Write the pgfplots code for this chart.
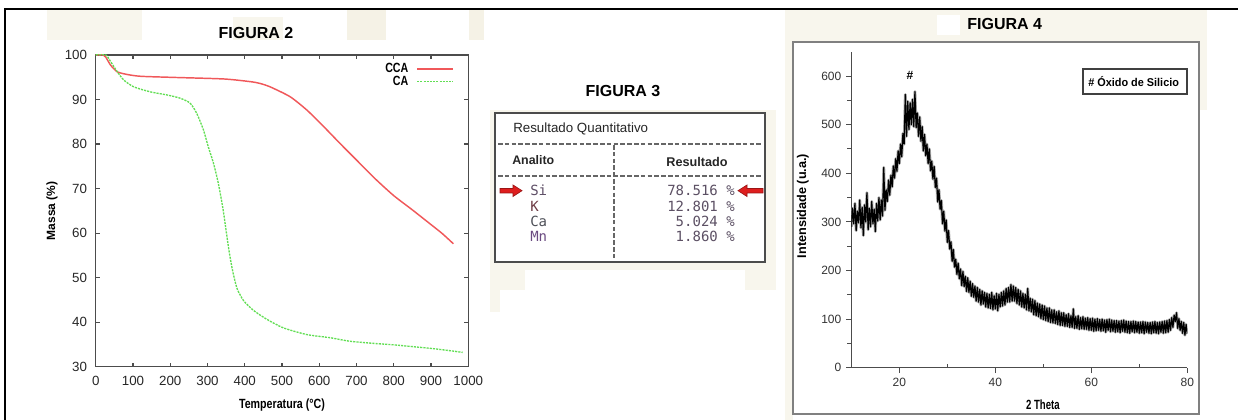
\documentclass[border=0pt]{standalone}
\usepackage{fontspec}
\setmainfont{Liberation Sans}
\newfontfamily\monofont{DejaVu Sans Mono}
\usepackage{graphicx}
\usepackage{pgfplots}
\usepackage{pgfplotstable}
\pgfplotsset{compat=1.18}
\definecolor{bgA}{RGB}{248,246,237}
\definecolor{bgB}{RGB}{245,242,230}
\definecolor{ccared}{RGB}{240,88,90}
\definecolor{cagreen}{RGB}{98,222,84}
\definecolor{arrowred}{RGB}{222,30,30}
\definecolor{valcol}{RGB}{92,80,100}
\pgfplotstableread[row sep=\\]{
x y\\
10 290\\ 10.25 328\\ 10.5 296\\ 10.75 338\\
11 282\\ 11.25 322\\ 11.5 298\\ 11.75 345\\
12 288\\ 12.25 330\\ 12.5 272\\ 12.75 335\\
13 300\\ 13.25 360\\ 13.5 284\\ 13.75 328\\
14 290\\ 14.25 342\\ 14.5 296\\ 14.75 326\\
15 280\\ 15.25 338\\ 15.5 302\\ 15.75 350\\
16 304\\ 16.25 345\\ 16.5 312\\ 16.75 412\\
17 324\\ 17.25 366\\ 17.5 342\\ 17.75 386\\
18 355\\ 18.25 396\\ 18.5 372\\ 18.75 415\\
19 390\\ 19.25 430\\ 19.5 404\\ 19.75 446\\
20 420\\ 20.25 460\\ 20.5 434\\ 20.75 482\\
21 460\\ 21.25 562\\ 21.5 476\\ 21.75 548\\
22 490\\ 22.25 545\\ 22.5 500\\ 22.75 552\\
23 496\\ 23.25 568\\ 23.5 494\\ 23.75 524\\
24 476\\ 24.25 516\\ 24.5 466\\ 24.75 496\\
25 446\\ 25.25 480\\ 25.5 436\\ 25.75 460\\
26 420\\ 26.25 450\\ 26.5 405\\ 26.75 425\\
27 388\\ 27.25 414\\ 27.5 371\\ 27.75 390\\
28 341\\ 28.25 366\\ 28.5 326\\ 28.75 344\\
29 296\\ 29.25 322\\ 29.5 281\\ 29.75 304\\
30 258\\ 30.25 282\\ 30.5 244\\ 30.75 259\\
31 219\\ 31.25 243\\ 31.5 207\\ 31.75 223\\
32 192\\ 32.25 215\\ 32.5 183\\ 32.75 203\\
33 169\\ 33.25 198\\ 33.5 167\\ 33.75 188\\
34 157\\ 34.25 185\\ 34.5 155\\ 34.75 178\\
35 147\\ 35.25 173\\ 35.5 145\\ 35.75 168\\
36 137\\ 36.25 165\\ 36.5 135\\ 36.75 161\\
37 129\\ 37.25 158\\ 37.5 131\\ 37.75 155\\
38 125\\ 38.25 153\\ 38.5 123\\ 38.75 151\\
39 122\\ 39.25 155\\ 39.5 119\\ 39.75 148\\
40 121\\ 40.25 153\\ 40.5 117\\ 40.75 151\\
41 125\\ 41.25 155\\ 41.5 127\\ 41.75 158\\
42 129\\ 42.25 163\\ 42.5 135\\ 42.75 165\\
43 135\\ 43.25 171\\ 43.5 137\\ 43.75 168\\
44 137\\ 44.25 165\\ 44.5 132\\ 44.75 161\\
45 129\\ 45.25 158\\ 45.5 125\\ 45.75 153\\
46 123\\ 46.25 151\\ 46.5 119\\ 46.75 163\\
47 117\\ 47.25 143\\ 47.5 115\\ 47.75 141\\
48 109\\ 48.25 138\\ 48.5 107\\ 48.75 133\\
49 105\\ 49.25 131\\ 49.5 101\\ 49.75 129\\
50 99\\ 50.25 127\\ 50.5 97\\ 50.75 123\\
51 95\\ 51.25 123\\ 51.5 93\\ 51.75 119\\
52 92\\ 52.25 119\\ 52.5 91\\ 52.75 115\\
53 89\\ 53.25 117\\ 53.5 87\\ 53.75 113\\
54 87\\ 54.25 113\\ 54.5 85\\ 54.75 109\\
55 85\\ 55.25 111\\ 55.5 83\\ 55.75 107\\
56 83\\ 56.25 121\\ 56.5 81\\ 56.75 105\\
57 81\\ 57.25 107\\ 57.5 79\\ 57.75 103\\
58 80\\ 58.25 105\\ 58.5 79\\ 58.75 102\\
59 79\\ 59.25 103\\ 59.5 77\\ 59.75 101\\
60 77\\ 60.25 102\\ 60.5 75\\ 60.75 100\\
61 76\\ 61.25 101\\ 61.5 77\\ 61.75 99\\
62 75\\ 62.25 100\\ 62.5 76\\ 62.75 98\\
63 73\\ 63.25 99\\ 63.5 77\\ 63.75 100\\
64 74\\ 64.25 98\\ 64.5 75\\ 64.75 97\\
65 73\\ 65.25 97\\ 65.5 74\\ 65.75 96\\
66 72\\ 66.25 97\\ 66.5 75\\ 66.75 98\\
67 73\\ 67.25 96\\ 67.5 72\\ 67.75 95\\
68 71\\ 68.25 95\\ 68.5 74\\ 68.75 96\\
69 72\\ 69.25 95\\ 69.5 73\\ 69.75 94\\
70 71\\ 70.25 94\\ 70.5 72\\ 70.75 95\\
71 70\\ 71.25 94\\ 71.5 73\\ 71.75 93\\
72 71\\ 72.25 93\\ 72.5 70\\ 72.75 94\\
73 72\\ 73.25 95\\ 73.5 71\\ 73.75 93\\
74 70\\ 74.25 94\\ 74.5 73\\ 74.75 95\\
75 71\\ 75.25 96\\ 75.5 72\\ 75.75 97\\
76 73\\ 76.25 99\\ 76.5 77\\ 76.75 103\\
77 83\\ 77.25 108\\ 77.5 95\\ 77.75 113\\
78 81\\ 78.25 101\\ 78.5 77\\ 78.75 95\\
79 71\\ 79.25 93\\ 79.5 67\\ 79.75 89\\
80 70\\
}\xrd
\begin{document}
\begin{tikzpicture}
\path[use as bounding box] (0,0) rectangle (928.5pt,315pt);
\begin{scope}[shift={(0,315pt)},x=0.75pt,y=-0.75pt]
 % beige patches (Figura 2 header)
 \fill[bgA] (47,10) rectangle (142,40);
 \fill[bgA] (233,17) rectangle (283,40);
 \fill[bgB] (347,10) rectangle (386,40);
 \fill[bgB] (469,10) rectangle (484,40);
 % Figura 3 background
 \fill[bgA] (490,110) rectangle (776,270);
 \fill[bgA] (490,270) rectangle (525,290);
 \fill[bgA] (745,270) rectangle (776,290);
 \fill[bgA] (490,290) rectangle (500,312);
 % Figura 4 background and frame
 \fill[bgA] (785,10) rectangle (1207,110);
 \fill[bgA] (785,10) rectangle (793,420);
 \fill[white] (937,15) rectangle (960,35);
 \filldraw[fill=white, draw=black!50, line width=1.1pt] (793,42) rectangle (1199,414);
 % outer frame
 \draw[black, line width=1.5pt] (5,420) -- (5,9) -- (1238,9);
 % table (Figura 3)
 \filldraw[fill=white, draw=black!70, line width=1.2pt] (495,113) rectangle (765,262);
 \draw[black!60, line width=0.8pt, dash pattern=on 3.5pt off 1.6pt] (498,144) -- (762,144);
 \draw[black!60, line width=0.8pt, dash pattern=on 3.5pt off 1.6pt] (498,176) -- (762,176);
 \draw[black!60, line width=0.8pt, dash pattern=on 3.5pt off 1.6pt] (614,145) -- (614,258);
 \node[anchor=west, inner sep=0pt, font=\fontsize{10}{12}\selectfont, text=black!85] at (513,129) {Resultado Quantitativo};
 \node[anchor=west, inner sep=0pt, font=\bfseries\fontsize{9.3}{11}\selectfont, text=black!85] at (512,160) {Analito};
 \node[anchor=center, inner sep=0pt, font=\bfseries\fontsize{9.5}{11}\selectfont, text=black!85] at (697,162) {Resultado};
 \node[anchor=west, inner sep=0pt, font=\monofont\fontsize{10.5}{12}\selectfont, text={rgb,255:red,94;green,78;blue,102}] at (530,190.7) {Si};
 \node[anchor=west, inner sep=0pt, font=\monofont\fontsize{10.5}{12}\selectfont, text={rgb,255:red,110;green,60;blue,68}] at (530,206) {K};
 \node[anchor=west, inner sep=0pt, font=\monofont\fontsize{10.5}{12}\selectfont, text={rgb,255:red,78;green,80;blue,88}] at (530,221) {Ca};
 \node[anchor=west, inner sep=0pt, font=\monofont\fontsize{10.5}{12}\selectfont, text={rgb,255:red,106;green,74;blue,128}] at (530,236) {Mn};
 \node[anchor=east, inner sep=0pt, font=\monofont\fontsize{10.5}{12}\selectfont, text=valcol] at (735,190.7) {78.516 \%};
 \node[anchor=east, inner sep=0pt, font=\monofont\fontsize{10.5}{12}\selectfont, text=valcol] at (735,206) {12.801 \%};
 \node[anchor=east, inner sep=0pt, font=\monofont\fontsize{10.5}{12}\selectfont, text=valcol] at (735,221) {5.024 \%};
 \node[anchor=east, inner sep=0pt, font=\monofont\fontsize{10.5}{12}\selectfont, text=valcol] at (735,236) {1.860 \%};
 \filldraw[fill=arrowred, draw=arrowred!70!black, line width=0.5pt] (500,188.5) -- (513,188.5) -- (513,185) -- (522,190.7) -- (513,196.5) -- (513,193) -- (500,193) -- cycle;
 \filldraw[fill=arrowred, draw=arrowred!70!black, line width=0.5pt] (763,188.5) -- (747,188.5) -- (747,185) -- (738,190.7) -- (747,196.5) -- (747,193) -- (763,193) -- cycle;
 % titles
 \node[font=\bfseries\fontsize{12}{14}\selectfont] at (256,33) {FIGURA 2};
 \node[font=\bfseries\fontsize{12}{14}\selectfont] at (623,91) {FIGURA 3};
 \node[font=\bfseries\fontsize{12}{14}\selectfont] at (1004.7,24) {FIGURA 4};
 % legend box figura 4
 \draw[black!75, line width=0.9pt] (1083,69) rectangle (1187,94);
 \node[anchor=west, inner sep=0pt, font=\bfseries\fontsize{8.5}{10}\selectfont] at (1088,81.5) {\scalebox{0.96}[1]{\# Óxido de Silicio}};
 \node[font=\bfseries\fontsize{9}{10}\selectfont] at (910,75) {\#};
\end{scope}

% ---------------- FIGURA 2 ----------------
\begin{axis}[
  at={(71.8pt,40pt)}, anchor=south west, scale only axis,
  width=279.4pt, height=233.8pt,
  xmin=0, xmax=1000, ymin=30, ymax=100,
  xtick={0,100,...,1000}, ytick={30,40,...,100},
  tick align=inside, major tick length=3pt,
  axis line style={draw=black!70, line width=1pt},
  every tick/.style={draw=black!70, line width=0.8pt},
  tick label style={font=\fontsize{10}{12}\selectfont, text=black!85},
  xticklabel style={yshift=-3.5pt},
  yticklabel style={xshift=-3pt},
  /pgf/number format/assume math mode=true,
  /pgf/number format/1000 sep={},
  xlabel={\scalebox{0.8}[1]{Temperatura (°C)}},
  ylabel={Massa (\%)},
  xlabel style={at={(axis description cs:0.5,-0.123)}, anchor=center, font=\bfseries\fontsize{10}{12}\selectfont},
  ylabel style={at={(axis description cs:-0.117,0.5)}, anchor=center, font=\bfseries\fontsize{9}{11}\selectfont},
  legend style={draw=none, fill=none, at={(axis description cs:0.962,0.978)}, anchor=north east,
    font=\bfseries\fontsize{10}{10}\selectfont, row sep=-1pt, column sep=5pt, inner sep=0pt, nodes={inner sep=1pt}},
  legend cell align=right, legend plot pos=right,
  legend image code/.code={\draw[#1] (0pt,0pt) -- (27pt,0pt);},
]
\addplot[ccared, line width=1.1pt, smooth, tension=0.4] coordinates {
(0,100) (20,100) (27,99.5) (40,97.7) (58,96.2) (85,95.6) (121,95.2) (210,94.95)
(344,94.6) (415,94.0) (441,93.6) (469,92.8) (522,90.6) (567,87.6) (612,83.9)
(656,80.1) (700,76.4) (750,72.2) (800,68.4) (850,65.2) (900,61.9) (930,59.9) (960,57.6)};
\addlegendentry{\scalebox{0.8}[1]{CCA}}
\addplot[cagreen, line width=1pt, dash pattern=on 1.6pt off 0.8pt, smooth, tension=0.4] coordinates {
(0,100) (27,100) (40,98.5) (58,96.2) (76,94.3) (103,92.8) (147,91.7) (192,91.0)
(226,90.3) (253,89.2) (271,86.9) (289,83.2) (302,79.4) (316,75.7) (329,71.2)
(342,65.2) (356,57.0) (364,53.0) (371,50.2) (380,47.4) (397,44.8) (424,42.6)
(460,40.6) (504,38.7) (567,37.2) (629,36.5) (683,35.7) (750,35.2) (800,34.9)
(850,34.5) (900,34.1) (950,33.6) (985,33.2)};
\addlegendentry{\scalebox{0.8}[1]{CA}}
\end{axis}

% ---------------- FIGURA 4 ----------------
\begin{axis}[
  at={(638.5pt,39.2pt)}, anchor=south west, scale only axis,
  width=252pt, height=237pt,
  xmin=10, xmax=80, ymin=0, ymax=650,
  axis x line*=bottom, axis y line*=left,
  axis line style={-, draw=black!70, line width=0.8pt},
  xtick={20,40,60,80}, ytick={0,100,...,600},
  minor y tick num=1,
  extra x ticks={30,50,70}, extra x tick labels={},
  extra x tick style={tick align=inside, major tick length=3pt},
  tick align=outside, major tick length=4pt, minor tick length=3pt,
  every tick/.style={draw=black!70, line width=0.7pt},
  tick label style={font=\fontsize{9}{11}\selectfont, text=black!80},
  /pgf/number format/assume math mode=true,
  xlabel={\scalebox{0.72}[1]{2 Theta}},
  ylabel={Intensidade (u.a.)},
  xlabel style={at={(axis description cs:0.570,-0.118)}, anchor=center, font=\bfseries\fontsize{10}{12}\selectfont},
  ylabel style={at={(axis description cs:-0.144,0.512)}, anchor=center, font=\bfseries\fontsize{9.5}{11}\selectfont},
]
\addplot[black!45, line width=2.2pt, line join=round, opacity=0.7] table[x=x, y=y] {\xrd};
\addplot[black, line width=0.9pt, line join=round] table[x=x, y=y] {\xrd};
\end{axis}
\end{tikzpicture}
\end{document}
